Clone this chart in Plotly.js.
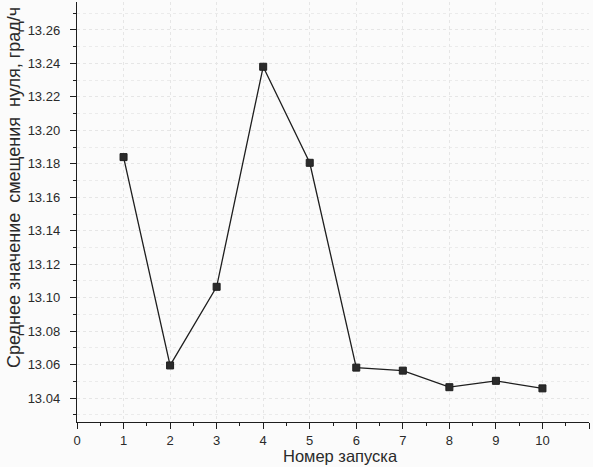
<!DOCTYPE html>
<html>
<head>
<meta charset="utf-8">
<script src="https://cdn.plot.ly/plotly-3.0.1.min.js"></script>
<style>
  html, body { margin: 0; padding: 0; background: #fbfbfb; }
  #chart { width: 593px; height: 467px; }
</style>
</head>
<body>
<div id="chart"></div>
<script>
// Run number and mean zero offset (deg/h) per run
const runs = [1, 2, 3, 4, 5, 6, 7, 8, 9, 10];
const meanOffset = [13.184, 13.0595, 13.1065, 13.238, 13.1806, 13.0582, 13.0564, 13.0465, 13.0503, 13.0458];

const xTitle = 'Номер запуска';
const yTitle = 'Среднее значение  смещения  нуля, град/ч';

const ink = '#1e1e1e';
const family = 'Liberation Sans, Arial, sans-serif';
const textColor = '#2a2a2a';

const trace = {
  x: runs,
  y: meanOffset,
  type: 'scatter',
  mode: 'lines+markers',
  line: { color: ink, width: 1.3 },
  marker: { symbol: 'square', size: 7, color: '#2b2b2b', line: { color: ink, width: 1 } },
  hoverinfo: 'x+y'
};

const layout = {
  width: 593,
  height: 467,
  margin: { l: 77, r: 4, t: 2, b: 45 },
  paper_bgcolor: '#fbfbfb',
  plot_bgcolor: '#fbfbfb',
  font: { family: family, size: 13, color: textColor },
  showlegend: false,
  xaxis: {
    range: [0, 11],
    tick0: 0,
    dtick: 1,
    ticks: 'outside',
    ticklen: 6,
    tickwidth: 1,
    tickcolor: ink,
    showline: true,
    linecolor: ink,
    linewidth: 1.2,
    zeroline: false,
    showgrid: true,
    gridcolor: '#e6e6e6',
    griddash: 'dot',
    gridwidth: 1,
    minor: { dtick: 0.5, ticks: 'outside', ticklen: 3, tickcolor: ink, showgrid: false },
    tickfont: { family: family, size: 13, color: textColor }
  },
  yaxis: {
    range: [13.0257, 13.2767],
    tick0: 13.04,
    dtick: 0.02,
    tickformat: '.2f',
    ticks: 'outside',
    ticklen: 6,
    tickwidth: 1,
    tickcolor: ink,
    ticklabelstandoff: 7,
    showline: true,
    linecolor: ink,
    linewidth: 1.2,
    zeroline: false,
    showgrid: true,
    gridcolor: '#e6e6e6',
    griddash: 'dot',
    gridwidth: 1,
    minor: { dtick: 0.01, ticks: 'outside', ticklen: 3, tickcolor: ink, showgrid: true, gridcolor: '#ebebeb', griddash: 'dot' },
    tickfont: { family: family, size: 13, color: textColor }
  },
  annotations: [
    {
      text: yTitle,
      textangle: -90,
      xref: 'paper', yref: 'paper',
      x: 0, y: 0.557,
      xanchor: 'center', yanchor: 'middle',
      xshift: -63,
      showarrow: false,
      font: { family: family, size: 18, color: textColor }
    },
    {
      text: xTitle,
      xref: 'paper', yref: 'paper',
      x: 0.5, y: 0,
      xanchor: 'center', yanchor: 'middle',
      xshift: 7, yshift: -34,
      showarrow: false,
      font: { family: family, size: 16.5, color: textColor }
    }
  ]
};

Plotly.newPlot('chart', [trace], layout, { displayModeBar: false, staticPlot: true });
</script>
</body>
</html>
